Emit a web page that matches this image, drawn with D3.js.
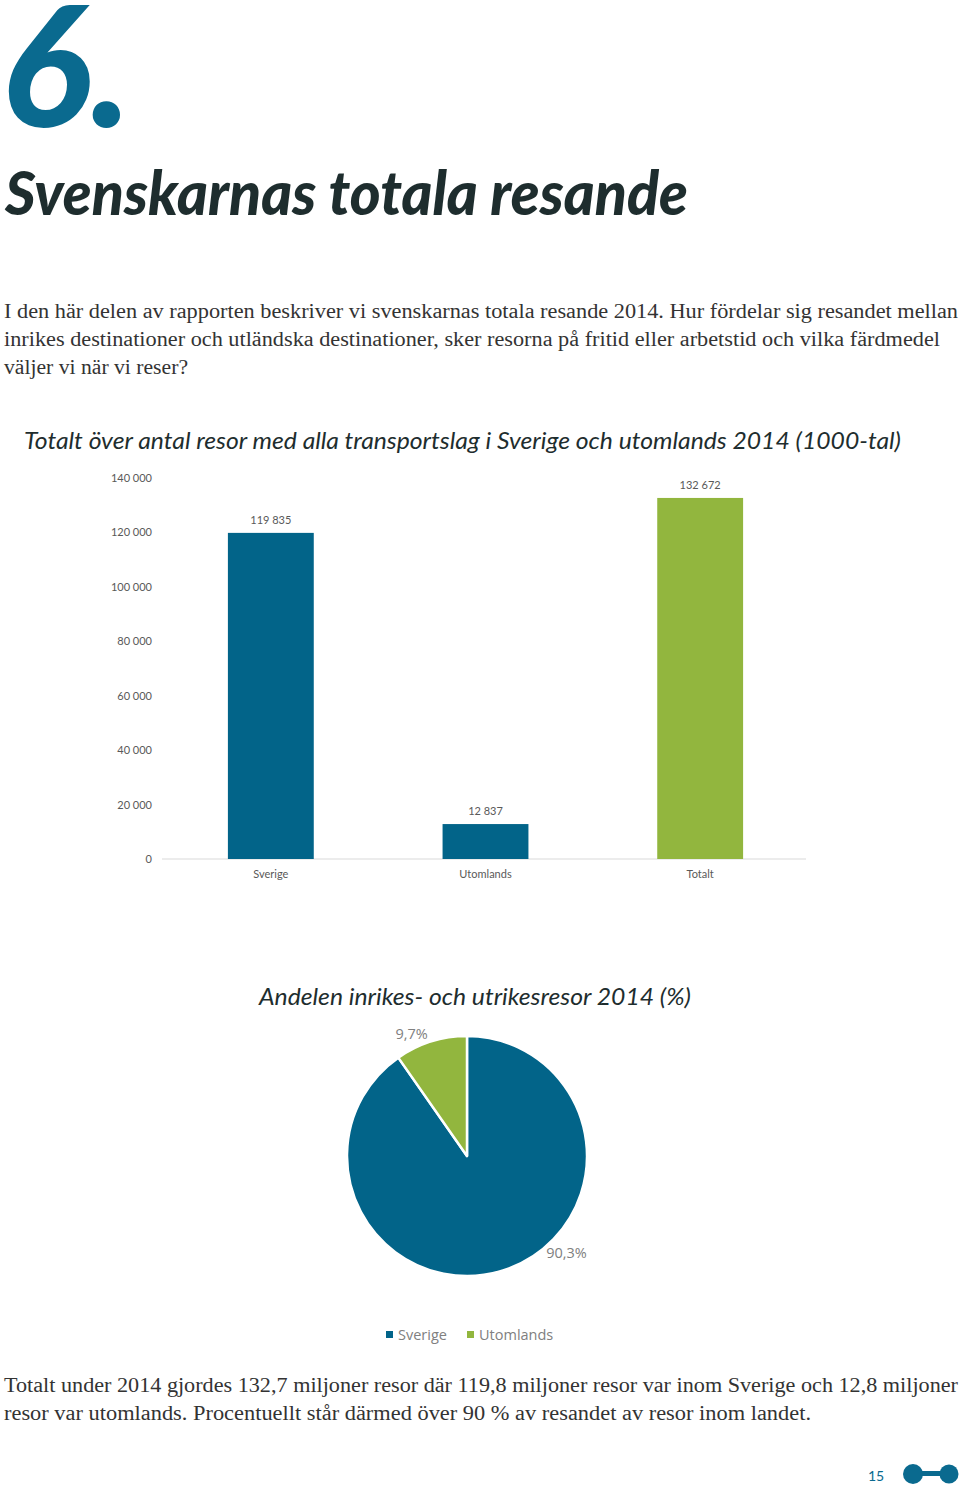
<!DOCTYPE html>
<html><head><meta charset="utf-8">
<script src="https://cdn.jsdelivr.net/npm/d3@7"></script>
<style>
html,body{margin:0;padding:0;background:#fff;}
svg{display:block;}
</style></head>
<body>
<script>
// ---------- data ----------
const categories = ["Sverige", "Utomlands", "Totalt"];
const values = [119835, 12837, 132672];
const yTicks = [0, 20000, 40000, 60000, 80000, 100000, 120000, 140000];
const pieNames = ["Sverige", "Utomlands"];
const pieShares = [90.3, 9.7];
const introLines = [
  "I den här delen av rapporten beskriver vi svenskarnas totala resande 2014. Hur fördelar sig resandet mellan",
  "inrikes destinationer och utländska destinationer, sker resorna på fritid eller arbetstid och vilka färdmedel",
  "väljer vi när vi reser?"
];
const outroLines = [
  "Totalt under 2014 gjordes 132,7 miljoner resor där 119,8 miljoner resor var inom Sverige och 12,8 miljoner",
  "resor var utomlands. Procentuellt står därmed över 90 % av resandet av resor inom landet."
];

// ---------- styles ----------
const BLUE = "#026489", GREEN = "#92b63e", DARK = "#1e2d2e", GREY = "#595959", LGREY = "#808080";
const barColors = [BLUE, BLUE, GREEN];
const pieColors = [BLUE, GREEN];

const W = 960, H = 1490;
const svg = d3.select("body").append("svg").attr("width", W).attr("height", H);

const loc = d3.formatLocale({decimal: ",", thousands: " ", grouping: [3], currency: ["", ""]});
const fmt = loc.format(",d");
const pfmt = loc.format(".1f");

// ---------- header ----------
svg.append("text").text("6.")
  .attr("x", 1).attr("y", 127)
  .attr("font-family", "Lato").attr("font-weight", 900).attr("font-style", "italic")
  .attr("font-size", 168).attr("fill", "#0a6a8f")
  .attr("textLength", 130).attr("lengthAdjust", "spacingAndGlyphs");

svg.append("text").text("Svenskarnas totala resande")
  .attr("x", 5).attr("y", 215)
  .attr("font-family", "Lato").attr("font-weight", 900).attr("font-style", "italic")
  .attr("font-size", 60).attr("fill", DARK)
  .attr("textLength", 683).attr("lengthAdjust", "spacingAndGlyphs");

const introW = [954, 936, 184];
svg.append("g").selectAll("text").data(introLines).join("text")
  .text(d => d)
  .attr("x", 4).attr("y", (d, i) => 318 + i * 28)
  .attr("font-family", "Liberation Serif").attr("font-size", 20).attr("fill", "#333")
  .attr("textLength", (d, i) => introW[i]).attr("lengthAdjust", "spacingAndGlyphs");

// ---------- bar chart ----------
svg.append("text").text("Totalt över antal resor med alla transportslag i Sverige och utomlands 2014 (1000-tal)")
  .attr("x", 24).attr("y", 449)
  .attr("font-family", "Lato").attr("font-style", "italic").attr("font-size", 24).attr("fill", DARK)
  .attr("textLength", 877).attr("lengthAdjust", "spacingAndGlyphs");

const x = d3.scaleBand().domain(categories).range([163.5, 807.5]).paddingInner(0.6).paddingOuter(0.3);
const y = d3.scaleLinear().domain([0, 140000]).range([859, 478]);

const yAxis = svg.append("g").attr("transform", "translate(162,0)")
  .call(d3.axisLeft(y).tickValues(yTicks).tickSize(0).tickPadding(10).tickFormat(fmt));
yAxis.select(".domain").remove();
yAxis.selectAll("text").attr("font-family", "Lato").attr("font-size", 11).attr("fill", GREY);

svg.append("line").attr("x1", 162).attr("x2", 806).attr("y1", y(0)).attr("y2", y(0))
  .attr("stroke", "#d9d9d9").attr("stroke-width", 1);

svg.append("g").selectAll("rect").data(values).join("rect")
  .attr("x", (d, i) => x(categories[i]))
  .attr("width", x.bandwidth())
  .attr("y", d => y(d))
  .attr("height", d => y(0) - y(d))
  .attr("fill", (d, i) => barColors[i]);

svg.append("g").selectAll("text").data(values).join("text")
  .text(d => fmt(d))
  .attr("x", (d, i) => x(categories[i]) + x.bandwidth() / 2)
  .attr("y", d => y(d) - 9)
  .attr("text-anchor", "middle")
  .attr("font-family", "Lato").attr("font-size", 11).attr("fill", GREY);

const xAxis = svg.append("g").attr("transform", `translate(0,${y(0)})`)
  .call(d3.axisBottom(x).tickSize(0).tickPadding(11));
xAxis.select(".domain").remove();
xAxis.selectAll("text").attr("font-family", "Lato").attr("font-size", 11).attr("fill", GREY);

// ---------- pie chart ----------
svg.append("text").text("Andelen inrikes- och utrikesresor 2014 (%)")
  .attr("x", 259).attr("y", 1005)
  .attr("font-family", "Lato").attr("font-style", "italic").attr("font-size", 24).attr("fill", DARK)
  .attr("textLength", 432).attr("lengthAdjust", "spacingAndGlyphs");

const cx = 467, cy = 1156, R = 120;
const pie = d3.pie().sort(null).value(d => d);
const arcs = pie(pieShares);
const arc = d3.arc().innerRadius(0).outerRadius(R);
const gp = svg.append("g").attr("transform", `translate(${cx},${cy})`);
gp.selectAll("path").data(arcs).join("path")
  .attr("d", arc)
  .attr("fill", (d, i) => pieColors[i])
  .attr("stroke", "#fff").attr("stroke-width", 2.5).attr("stroke-linejoin", "round");

// label placement (layout): fraction within slice and radius
const labelFrac = [0.413, 0.30], labelR = [139, 134];
gp.selectAll("text").data(arcs).join("text")
  .each(function (d, i) {
    const a = d.startAngle + (d.endAngle - d.startAngle) * labelFrac[i];
    d3.select(this)
      .attr("x", Math.sin(a) * labelR[i])
      .attr("y", -Math.cos(a) * labelR[i] + 5);
  })
  .text(d => pfmt(d.data) + "%")
  .attr("text-anchor", "middle")
  .attr("font-family", "Open Sans").attr("font-size", 14.5).attr("fill", LGREY);

// legend
const legX = [386, 467];
const lg = svg.append("g").selectAll("g").data(pieNames).join("g")
  .attr("transform", (d, i) => `translate(${legX[i]},1335)`);
lg.append("rect").attr("x", 0).attr("y", -4).attr("width", 7).attr("height", 7)
  .attr("fill", (d, i) => pieColors[i]);
lg.append("text").text(d => d).attr("x", 12).attr("y", 5)
  .attr("font-family", "Open Sans").attr("font-size", 14.5).attr("fill", LGREY);

// ---------- closing text ----------
const outroW = [954, 807];
svg.append("g").selectAll("text").data(outroLines).join("text")
  .text(d => d)
  .attr("x", 4).attr("y", (d, i) => 1392 + i * 28)
  .attr("font-family", "Liberation Serif").attr("font-size", 20).attr("fill", "#333")
  .attr("textLength", (d, i) => outroW[i]).attr("lengthAdjust", "spacingAndGlyphs");

// ---------- footer ----------
svg.append("text").text("15").attr("x", 868).attr("y", 1481)
  .attr("font-family", "Lato").attr("font-size", 14).attr("fill", "#0a6a8f");
const fg = svg.append("g").attr("fill", "#0a6a8f");
fg.append("rect").attr("x", 912).attr("y", 1471).attr("width", 38).attr("height", 5);
fg.append("circle").attr("cx", 913).attr("cy", 1474).attr("r", 10);
fg.append("circle").attr("cx", 949).attr("cy", 1474).attr("r", 9.5);
</script>
</body></html>
